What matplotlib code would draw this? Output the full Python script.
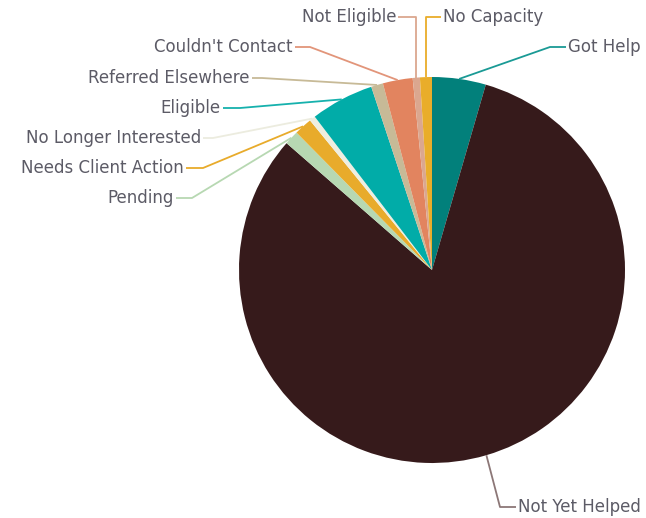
import matplotlib
matplotlib.use("Agg")
import matplotlib.pyplot as plt
import numpy as np

# slice data, clockwise from 12 o'clock
categories = ["Got Help", "Not Yet Helped", "Pending", "Needs Client Action",
              "No Longer Interested", "Eligible", "Referred Elsewhere",
              "Couldn't Contact", "Not Eligible", "No Capacity"]
counts = [45, 820, 12, 15, 5, 53, 10, 25, 6, 10]
colors = ["#02807b", "#361a1b", "#b7d8b2", "#e8ab2b", "#eeeee0",
          "#01aca8", "#c7ba97", "#e2845f", "#dba78f", "#e9ad2a"]
line_colors = ["#1a9a95", "#8c7777", "#b7d8b2", "#e8ab2b", "#ececdf",
               "#16b1ad", "#c7ba97", "#e2957a", "#dba78f", "#e9ad2a"]

W, H = 646, 518
fig = plt.figure(figsize=(W / 100, H / 100), dpi=100)
ax = fig.add_axes([0, 0, 1, 1])

cx, cy, r = 432, H - 270, 193
wedges, _ = ax.pie(counts, colors=colors, startangle=90, counterclock=False,
                   center=(cx, cy), radius=r, frame=True,
                   wedgeprops=dict(linewidth=0))
ax.set_xlim(0, W)
ax.set_ylim(0, H)
ax.set_aspect("equal")
ax.axis("off")

# label layout (pixel coords from top-left): text x, text y, alignment, elbow x
layout = {
    "Got Help": (568, 47, "left", 550),
    "Not Yet Helped": (518, 507, "left", 500),
    "Pending": (174, 198, "right", 192),
    "Needs Client Action": (184, 168, "right", 203),
    "No Longer Interested": (201, 138, "right", 213),
    "Eligible": (221, 108, "right", 240),
    "Referred Elsewhere": (250, 78, "right", 262),
    "Couldn't Contact": (293, 47, "right", 310),
    "Not Eligible": (396, 17, "right", None),
    "No Capacity": (443, 17, "left", None),
}

for w, name, lc in zip(wedges, categories, line_colors):
    mid = np.radians((w.theta1 + w.theta2) / 2)
    px, py = cx + r * np.cos(mid), cy + r * np.sin(mid)
    tx, ty, ha, ex = layout[name]
    ty = H - ty
    if ex is None:
        ex = px
    end = tx - 2 if ha == "left" else tx + 2
    ax.plot([px, ex, end], [py, ty, ty], color=lc, lw=1.3,
            solid_capstyle="butt", zorder=1)
    ax.text(tx, ty, name, ha=ha, va="center", fontsize=12,
            color="#5c5b66", family="DejaVu Sans")

fig.savefig("out.png", dpi=100)
